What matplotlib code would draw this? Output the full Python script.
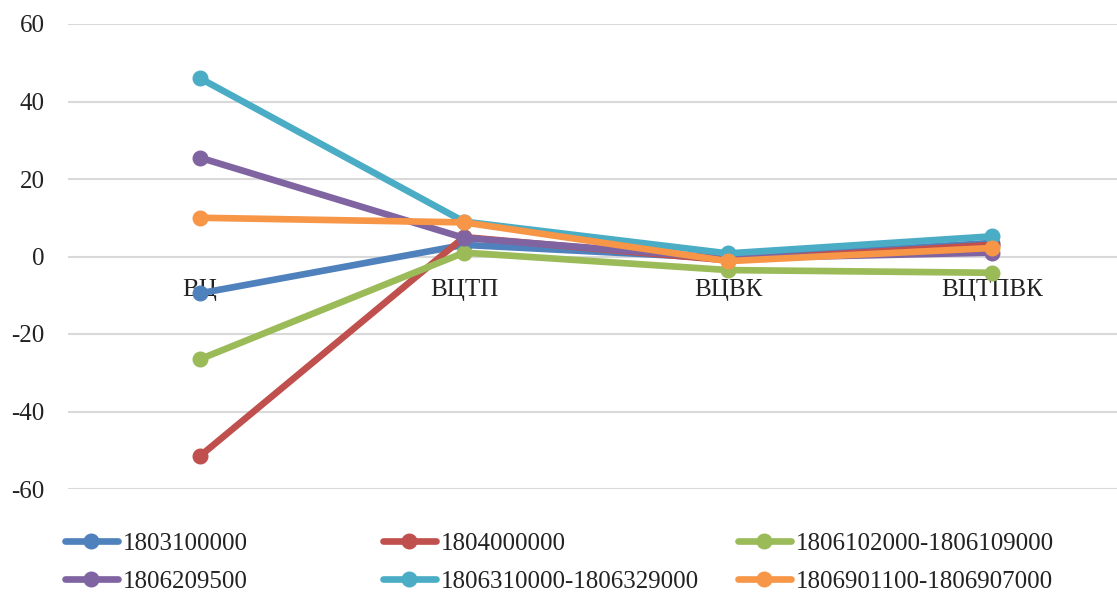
import matplotlib
matplotlib.use('Agg')
import matplotlib.pyplot as plt

plt.rcParams['font.family'] = ['Liberation Serif', 'DejaVu Serif']

categories = ['ВЦ', 'ВЦТП', 'ВЦВК', 'ВЦТПВК']

series_names = ['1803100000', '1804000000', '1806102000-1806109000',
                '1806209500', '1806310000-1806329000', '1806901100-1806907000']
series_colors = ['#4F81BD', '#C0504D', '#9BBB59', '#8064A2', '#4BACC6', '#F79646']

s1803100000 = [-9.5, 3.0, -0.5, 3.5]
s1804000000 = [-51.5, 5.0, -1.0, 3.0]
s1806102000 = [-26.5, 1.0, -3.5, -4.2]
s1806209500 = [25.5, 4.8, -0.5, 1.0]
s1806310000 = [46.0, 9.0, 0.8, 5.2]
s1806901100 = [10.0, 8.8, -1.2, 2.2]
series_values = [s1803100000, s1804000000, s1806102000,
                 s1806209500, s1806310000, s1806901100]

y_ticks = [-60, -40, -20, 0, 20, 40, 60]

fig = plt.figure(figsize=(11.17, 5.97), dpi=100)
ax = fig.add_axes([68 / 1117, 108 / 597, 1056 / 1117, 465 / 597])

x = list(range(len(categories)))
handles = []
for name, color, vals in zip(series_names, series_colors, series_values):
    h, = ax.plot(x, vals, color=color, lw=4.8, marker='o', ms=10.5,
                 label=name, solid_capstyle='round', zorder=3)
    handles.append(h)

ax.set_xlim(-0.5, 3.5)
ax.set_ylim(-60, 60)
ax.set_yticks(y_ticks)
ax.set_yticklabels([str(t) for t in y_ticks])
ax.yaxis.grid(True, color='#d9d9d9', lw=1.5)
ax.set_axisbelow(True)

# category labels sit just under the zero line
ax.spines['bottom'].set_position(('data', 0))
for s in ax.spines.values():
    s.set_visible(False)
ax.set_xticks(x)
ax.set_xticklabels(categories)
ax.tick_params(axis='x', length=0, pad=16.5, labelsize=18, colors='#222222')
ax.tick_params(axis='y', length=0, pad=17, labelsize=18, colors='#222222')

# Excel-style legend: three columns, placed one by one
col_x = [65, 383, 738]
for i, cx in enumerate(col_x):
    leg = fig.legend(handles=[handles[i], handles[i + 3]],
                     loc='upper left', bbox_to_anchor=(cx / 1117, 1 - 532 / 597),
                     frameon=False, fontsize=18, handlelength=2.1,
                     handletextpad=0.2, labelspacing=0.62, borderpad=0,
                     borderaxespad=0)
    for t in leg.get_texts():
        t.set_color('#222222')

fig.savefig('out.png', dpi=100)
